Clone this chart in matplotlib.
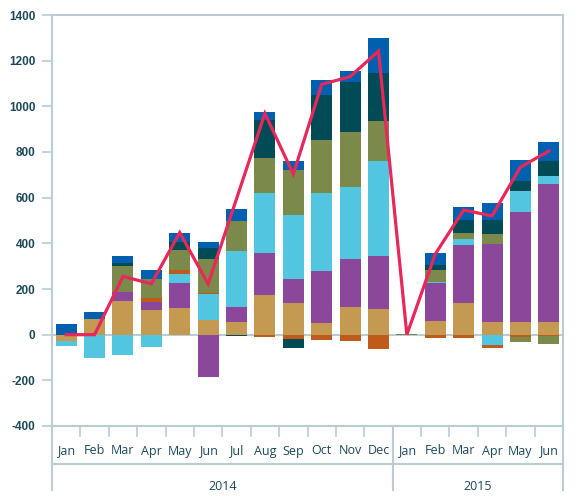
import matplotlib
matplotlib.use("Agg")
import matplotlib.pyplot as plt
import matplotlib.transforms as mtransforms
import numpy as np

months = ["Jan", "Feb", "Mar", "Apr", "May", "Jun", "Jul", "Aug", "Sep", "Oct", "Nov", "Dec",
          "Jan", "Feb", "Mar", "Apr", "May", "Jun"]
years = ["2014", "2015"]
year_counts = [12, 6]

tan    = [-28, 69, 148, 108, 117, 64, 56, 174, 139, 51, 121, 112, 0, 60, 139, 56, 56, 56]
purple = [0, 0, 40, 35, 108, -184, 65, 184, 105, 228, 210, 232, 0, 166, 254, 341, 481, 604]
cyan   = [-20, -100, -89, -52, 41, 114, 245, 262, 280, 341, 315, 416, 0, 6, 26, -45, 92, 34]
orange = [0, 0, 0, 19, 17, 3, 0, -10, -18, -23, -28, -62, 0, -14, -14, -13, -12, -4]
olive  = [0, 0, 113, 82, 88, 150, 132, 154, 197, 232, 241, 176, 3, 51, 26, 44, -22, -37]
teal   = [0, 0, 13, -4, 35, 49, -5, 166, -40, 197, 221, 210, 0, 22, 57, 61, 44, 66]
blue   = [47, 30, 30, 39, 39, 26, 52, 35, 39, 66, 46, 153, 0, 53, 57, 75, 92, 84]
line   = [0, 0, 255, 223, 447, 222, 595, 969, 703, 1096, 1130, 1242, 0, 353, 546, 520, 734, 804]

series = [tan, purple, cyan, orange, olive, teal, blue]
colors = ["#c49a52", "#8b4799", "#52c5e0", "#c05a1a", "#7b8a4a", "#004b55", "#0060b0"]

axis_col = "#b9cdd3"
text_col = "#1d4a5a"

fig = plt.figure(figsize=(5.84, 5.00), dpi=100)
ax = fig.add_axes([52/584, 74/500, (563-52)/584, (426-15)/500])

x = np.arange(len(months))
pos_bottom = np.zeros(len(months))
neg_bottom = np.zeros(len(months))
for vals, c in zip(series, colors):
    v = np.array(vals, dtype=float)
    bottom = np.where(v >= 0, pos_bottom, neg_bottom)
    ax.bar(x, v, width=0.74, bottom=bottom, color=c, linewidth=0, zorder=2)
    pos_bottom = pos_bottom + np.where(v > 0, v, 0)
    neg_bottom = neg_bottom + np.where(v < 0, v, 0)

ax.plot(x, line, color="#e8285a", linewidth=2.3, zorder=4, solid_joinstyle="miter")

ax.axhline(0, color=axis_col, linewidth=1.5, zorder=1)

ax.set_xlim(-0.5, len(months) - 0.5)
ax.set_ylim(-400, 1400)
ax.set_yticks(np.arange(-400, 1401, 200))
ax.set_yticklabels([str(v) for v in range(-400, 1401, 200)],
                   fontfamily="Liberation Sans", fontweight="bold", fontsize=8.5, color=text_col)
ax.tick_params(axis="y", length=7, width=1.2, color=axis_col, pad=5)
ax.set_xticks([])

for s in ["left", "right", "top", "bottom"]:
    ax.spines[s].set_color(axis_col)
    ax.spines[s].set_linewidth(1.5)

# two-level category axis
trans = mtransforms.blended_transform_factory(ax.transData, fig.transFigure)
def fy(py):
    return 1 - py / 500

for b in np.arange(0.5, len(months) - 1, 1.0):
    ax.plot([b, b], [fy(426), fy(436)], transform=trans, color=axis_col, lw=1.2, clip_on=False)
for i, m in enumerate(months):
    ax.text(i, fy(451), m, transform=trans, ha="center", va="center",
            fontfamily="Open Sans", fontsize=9, color=text_col)
ax.plot([-0.5, len(months) - 0.5], [fy(464), fy(464)], transform=trans,
        color=axis_col, lw=1.5, clip_on=False)
start = -0.5
edges = [start]
for yl, n in zip(years, year_counts):
    ax.text(start + n / 2, fy(486), yl, transform=trans, ha="center", va="center",
            fontfamily="Open Sans", fontsize=9, color=text_col)
    start += n
    edges.append(start)
for e in edges:
    ax.plot([e, e], [fy(426), fy(490)], transform=trans, color=axis_col, lw=1.5, clip_on=False)

fig.savefig("out.png", dpi=100)
